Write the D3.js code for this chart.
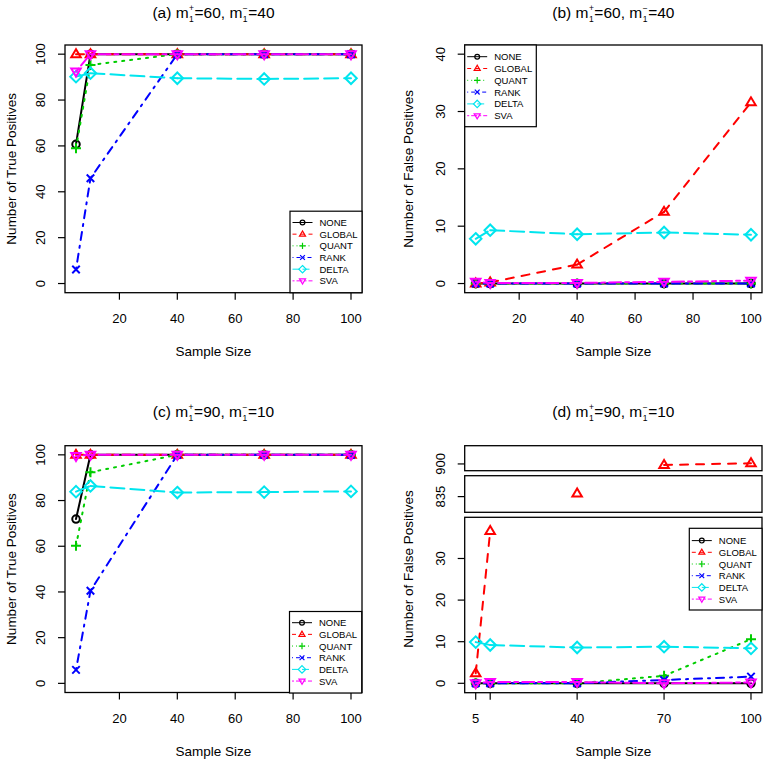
<!DOCTYPE html>
<html><head><meta charset="utf-8">
<script src="https://cdn.jsdelivr.net/npm/d3@7"></script>
<style>body{margin:0;background:#fff} svg{display:block} text{font-family:"Liberation Sans",Arial,sans-serif;fill:#000}</style>
</head><body><svg id="c" width="764" height="761"></svg>
<script>
// ---------- data ----------
const sampleSizes = [5, 10, 40, 70, 100];
const methods = ["NONE", "GLOBAL", "QUANT", "RANK", "DELTA", "SVA"];
const truePosA = [
  [60.7, 100, 100, 100, 100],
  [100, 100, 100, 100, 100],
  [59, 95.3, 100, 100, 100],
  [6.1, 45.9, 100, 100, 100],
  [90.2, 91.7, 89.5, 89.2, 89.5],
  [92.4, 100, 100, 100, 100]
];
const falsePosB = [
  [0, 0, 0, 0, 0],
  [0, 0.2, 3.3, 12.5, 31.6],
  [0, 0, 0, 0, 0],
  [0, 0, 0, 0, 0],
  [7.8, 9.3, 8.6, 8.9, 8.5],
  [0.3, 0.1, 0.1, 0.3, 0.5]
];
const truePosC = [
  [71.9, 100, 100, 100, 100],
  [100, 100, 100, 100, 100],
  [60.2, 92.4, 100, 100, 100],
  [5.9, 40.5, 100, 100, 100],
  [83.9, 86.4, 83.5, 83.7, 84],
  [99.5, 100, 100, 100, 100]
];
const falsePosD = [
  [0, 0, 0, 0, 0],
  [2.4, 36.6, 838, 898.5, 901],
  [0, 0, 0, 1.8, 10.6],
  [0, 0, 0, 0.8, 1.6],
  [9.9, 9.2, 8.6, 8.8, 8.4],
  [0, 0.3, 0.3, 0, 0.2]
];
const xTicks = [20, 40, 60, 80, 100];
const tpTicks = [0, 20, 40, 60, 80, 100];
const fpTicksB = [0, 10, 20, 30, 40];
const fpTicksDLow = [0, 10, 20, 30];
const fpTicksDMid = [835];
const fpTicksDTop = [900];
const xTicksD = [5, 10, 40, 70, 100];
const xTickLabelsD = ["5", "", "40", "70", "100"];

// ---------- styles ----------
const colors = ["#000000", "#FF0000", "#00CD00", "#0000FF", "#00E5EE", "#FF00FF"];
const dash2 = [null, "8,8", "2,6", "2,6,8,6", "14,6", "4,4,12,4"];
const dash1 = [null, "4,4", "1,3", "1,3,4,3", "7,3", "2,2,6,2"];
const shapes = ["circle", "tri", "plus", "x", "diamond", "tridown"];

const svg = d3.select("#c");

function marker(g, shape, x, y, s, color, lw) {
  const st = (sel) => sel.attr("fill", "none").attr("stroke", color).attr("stroke-width", lw);
  if (shape === "circle") st(g.append("circle").attr("cx", x).attr("cy", y).attr("r", s * 0.75));
  else if (shape === "tri") st(g.append("path").attr("d", `M${x},${y - s}L${x - s * 0.95},${y + s * 0.6}L${x + s * 0.95},${y + s * 0.6}Z`));
  else if (shape === "tridown") st(g.append("path").attr("d", `M${x},${y + s}L${x - s * 0.95},${y - s * 0.6}L${x + s * 0.95},${y - s * 0.6}Z`));
  else if (shape === "plus") st(g.append("path").attr("d", `M${x - s},${y}H${x + s}M${x},${y - s}V${y + s}`));
  else if (shape === "x") st(g.append("path").attr("d", `M${x - s * 0.75},${y - s * 0.75}L${x + s * 0.75},${y + s * 0.75}M${x - s * 0.75},${y + s * 0.75}L${x + s * 0.75},${y - s * 0.75}`));
  else if (shape === "diamond") st(g.append("path").attr("d", `M${x},${y - s * 1.15}L${x + s * 1.15},${y}L${x},${y + s * 1.15}L${x - s * 1.15},${y}Z`));
}

function title(cx, cy, letter, a, b) {
  const g = svg.append("g");
  let x = 0;
  const big = 15.5, small = 8.5;
  function part(t) {
    const el = g.append("text").attr("x", x).attr("y", 0).attr("font-size", big).text(t);
    x += el.node().getComputedTextLength();
  }
  function stack(sup, sub) {
    const e1 = g.append("text").attr("x", x + 0.5).attr("y", -7).attr("font-size", small).text(sup);
    const e2 = g.append("text").attr("x", x + 0.5).attr("y", 3.8).attr("font-size", small).text(sub);
    x += Math.max(e1.node().getComputedTextLength(), e2.node().getComputedTextLength()) + 1;
  }
  part(`(${letter}) m`); stack("+", "1"); part(`=${a}, m`); stack("\u2212", "1"); part(`=${b}`);
  g.attr("transform", `translate(${cx - x / 2},${cy + 5})`);
}

function frame(x0, x1, y0, y1) {
  svg.append("rect").attr("x", x0).attr("y", y0).attr("width", x1 - x0).attr("height", y1 - y0)
    .attr("fill", "none").attr("stroke", "#000").attr("stroke-width", 1.3);
}

function yAxis(x0, ys, ticks) {
  const g = svg.append("g");
  ticks.forEach(t => {
    const y = ys(t);
    g.append("line").attr("x1", x0 - 7).attr("x2", x0).attr("y1", y).attr("y2", y).attr("stroke", "#000").attr("stroke-width", 1.2);
    g.append("text").attr("transform", `translate(${x0 - 24.5},${y}) rotate(-90)`)
      .attr("text-anchor", "middle").attr("dominant-baseline", "central").attr("font-size", 13).text(t);
  });
}

function xAxis(y1, xs, ticks, labels) {
  const g = svg.append("g");
  ticks.forEach((t, i) => {
    const x = xs(t);
    g.append("line").attr("x1", x).attr("x2", x).attr("y1", y1).attr("y2", y1 + 7).attr("stroke", "#000").attr("stroke-width", 1.2);
    g.append("text").attr("x", x).attr("y", y1 + 25.5).attr("text-anchor", "middle").attr("dominant-baseline", "central")
      .attr("font-size", 13).text(labels ? labels[i] : t);
  });
}

function axisTitles(cx, ybot, xlab, ylabX, ycen, ylab) {
  svg.append("text").attr("x", cx).attr("y", ybot + 59).attr("text-anchor", "middle").attr("dominant-baseline", "central")
    .attr("font-size", 13.5).text(xlab);
  svg.append("text").attr("transform", `translate(${ylabX},${ycen}) rotate(-90)`).attr("text-anchor", "middle")
    .attr("dominant-baseline", "central").attr("font-size", 13.5).text(ylab);
}

function drawSeries(g, xs, ys, vals, i, inRange) {
  const pts = sampleSizes.map((s, k) => ({ x: xs(s), v: vals[k], ok: inRange(vals[k]) }));
  for (let k = 0; k < pts.length - 1; k++) {
    if (pts[k].ok && pts[k + 1].ok) {
      g.append("line").attr("x1", pts[k].x).attr("y1", ys(pts[k].v)).attr("x2", pts[k + 1].x).attr("y2", ys(pts[k + 1].v))
        .attr("stroke", colors[i]).attr("stroke-width", 2).attr("stroke-linecap", "round")
        .attr("stroke-dasharray", dash2[i]);
    }
  }
  pts.forEach(p => { if (p.ok) marker(g, shapes[i], p.x, ys(p.v), 5, colors[i], 2); });
}

function legend(x0, y0, w, h, firstY, step) {
  const g = svg.append("g");
  g.append("rect").attr("x", x0).attr("y", y0).attr("width", w).attr("height", h).attr("fill", "#fff")
    .attr("stroke", "#000").attr("stroke-width", 1.2);
  methods.forEach((m, i) => {
    const y = y0 + firstY + i * step;
    g.append("line").attr("x1", x0 + 2.5).attr("x2", x0 + 22.5).attr("y1", y).attr("y2", y)
      .attr("stroke", colors[i]).attr("stroke-width", 1).attr("stroke-dasharray", dash1[i]);
    marker(g, shapes[i], x0 + 12.5, y, 3.2, colors[i], 1.2);
    g.append("text").attr("x", x0 + 29.5).attr("y", y).attr("dominant-baseline", "central").attr("font-size", 9.5).text(m);
  });
}

function standardPanel(opt) {
  const xs = d3.scaleLinear().domain([1.2, 103.8]).range([opt.x0, opt.x1]);
  const ys = d3.scaleLinear().domain(opt.yDomain).range([opt.y1, opt.y0]);
  const g = svg.append("g");
  opt.data.forEach((vals, i) => drawSeries(g, xs, ys, vals, i, () => true));
  frame(opt.x0, opt.x1, opt.y0, opt.y1);
  yAxis(opt.x0, ys, opt.yTicks);
  xAxis(opt.y1, xs, xTicks);
  axisTitles((opt.x0 + opt.x1) / 2, opt.y1, "Sample Size", opt.ylabX, (opt.y0 + opt.y1) / 2, opt.ylab);
  title((opt.x0 + opt.x1) / 2, opt.titleY, opt.letter, opt.a, opt.b);
  legend(...opt.leg);
}

// (a)
standardPanel({ x0: 65, x1: 362, y0: 45, y1: 292.7, yDomain: [-4, 104], data: truePosA, yTicks: tpTicks,
  ylab: "Number of True Positives", ylabX: 11, titleY: 13, letter: "a", a: 60, b: 40,
  leg: [290, 211.2, 72, 81.5, 11.3, 11.67] });
// (b)
standardPanel({ x0: 464.7, x1: 762, y0: 45, y1: 292.7, yDomain: [-1.6, 41.6], data: falsePosB, yTicks: fpTicksB,
  ylab: "Number of False Positives", ylabX: 408, titleY: 13, letter: "b", a: 60, b: 40,
  leg: [464.7, 45, 71.6, 81.7, 11.7, 11.8] });
// (c)
standardPanel({ x0: 65, x1: 362, y0: 445.7, y1: 692.5, yDomain: [-4, 104], data: truePosC, yTicks: tpTicks,
  ylab: "Number of True Positives", ylabX: 11, titleY: 411.7, letter: "c", a: 90, b: 10,
  leg: [289.5, 611.5, 72.2, 81.5, 11.2, 11.67] });

// (d) broken axis
(function () {
  const x0 = 464.7, x1 = 762;
  const xs = d3.scaleLinear().domain([1.2, 103.8]).range([x0, x1]);
  const segs = [
    { y0: 517.3, y1: 692.7, dom: [-2.26, 39.9], ticks: fpTicksDLow },
    { y0: 475.7, y1: 512.3, dom: [820, 855], ticks: fpTicksDMid },
    { y0: 445.7, y1: 470.7, dom: [890, 927], ticks: fpTicksDTop }
  ];
  segs.forEach(sg => {
    const ys = d3.scaleLinear().domain(sg.dom).range([sg.y1, sg.y0]);
    const g = svg.append("g");
    falsePosD.forEach((vals, i) => drawSeries(g, xs, ys, vals, i, v => v >= sg.dom[0] && v <= sg.dom[1]));
    frame(x0, x1, sg.y0, sg.y1);
    yAxis(x0, ys, sg.ticks);
  });
  xAxis(692.7, xs, xTicksD, xTickLabelsD);
  axisTitles((x0 + x1) / 2, 692.7, "Sample Size", 408, 569, "Number of False Positives");
  title((x0 + x1) / 2, 411.7, "d", 90, 10);
  legend(689.3, 528.3, 72.7, 81.7, 12.3, 11.7);
})();
</script></body></html>
